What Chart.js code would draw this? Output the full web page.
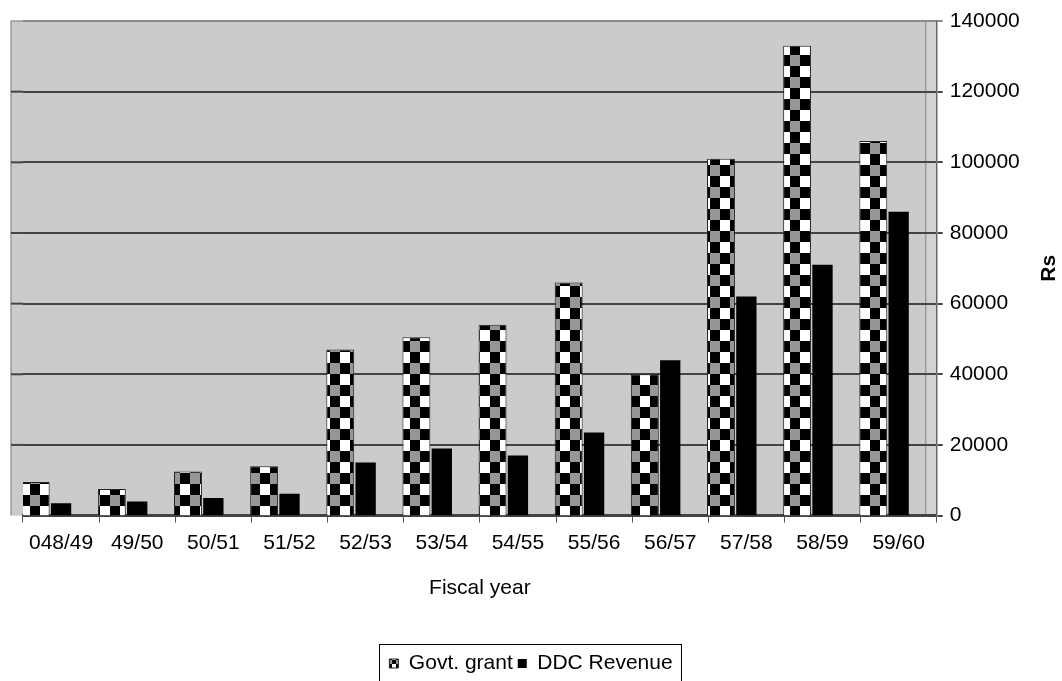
<!DOCTYPE html>
<html>
<head>
<meta charset="utf-8">
<title>Govt. grant and DDC Revenue</title>
<script src="https://cdn.jsdelivr.net/npm/chart.js@4.4.1/dist/chart.umd.min.js"></script>
<style>
    html, body { margin: 0; padding: 0; background: #fff; }
    canvas { display: block; }
</style>
</head>
<body>
<canvas id="chart" width="1062" height="681"></canvas>
<script>
// Fiscal years on the x axis
const years = ['048/49', '49/50', '50/51', '51/52', '52/53', '53/54', '54/55', '55/56', '56/57', '57/58', '58/59', '59/60'];

// Values in Rs
const govtGrant = [9500, 7500, 12500, 14000, 47000, 50500, 54000, 66000, 40000, 101000, 133000, 106000];
const ddcRevenue = [3500, 4000, 5000, 6200, 15000, 19000, 17000, 23500, 44000, 62000, 71000, 86000];

// y axis range
const yMax = 140000;
const yStep = 20000;

const FONT = "'Liberation Sans', Arial, sans-serif";

// checkered fill for the grant bars (cell = size of one square)
function makeChecker(ctx, cw, ch) {
    const c = document.createElement('canvas');
    c.width = cw * 2;
    c.height = ch * 2;
    const g = c.getContext('2d');
    g.fillStyle = '#ffffff';
    g.fillRect(0, 0, cw, ch);
    g.fillStyle = '#000000';
    g.fillRect(cw, 0, cw, ch);
    g.fillRect(0, ch, cw, ch);
    g.fillStyle = '#969696';
    g.fillRect(cw, ch, cw, ch);
    return ctx.createPattern(c, 'repeat');
}

// grey back wall, side wall and short grid stubs on the left
const wallPlugin = {
    id: 'wall',
    beforeDraw(chart) {
        const { ctx, chartArea } = chart;
        const y = chart.scales.y;
        ctx.save();
        ctx.fillStyle = '#cbcbcb';
        ctx.fillRect(chartArea.left - 12, chartArea.top, chartArea.right - chartArea.left + 12, chartArea.bottom - chartArea.top);
        ctx.fillStyle = '#d2d2d2';
        ctx.fillRect(chartArea.right - 11, chartArea.top, 11, chartArea.bottom - chartArea.top);
        ctx.strokeStyle = '#9a9a9a';
        ctx.lineWidth = 1.5;
        ctx.beginPath();
        ctx.moveTo(chartArea.left - 12, chartArea.bottom);
        ctx.lineTo(chartArea.left - 12, chartArea.top);
        ctx.lineTo(chartArea.right - 11, chartArea.top);
        ctx.lineTo(chartArea.right - 11, chartArea.bottom);
        ctx.stroke();
        // grid stubs left of the category axis
        ctx.strokeStyle = '#444';
        ctx.lineWidth = 2;
        for (let v = yStep; v < yMax; v += yStep) {
            const py = y.getPixelForValue(v);
            ctx.beginPath();
            ctx.moveTo(chartArea.left - 12, py);
            ctx.lineTo(chartArea.left, py);
            ctx.stroke();
        }
        ctx.restore();
    },
    afterDraw(chart) {
        const { ctx } = chart;
        const y = chart.scales.y;
        ctx.save();
        // axis title, reading bottom to top
        ctx.translate(y.right - 12.6, (chart.chartArea.top + chart.chartArea.bottom) / 2);
        ctx.rotate(-Math.PI / 2);
        ctx.fillStyle = '#000';
        ctx.font = 'bold 21px ' + FONT;
        ctx.textAlign = 'center';
        ctx.textBaseline = 'middle';
        ctx.fillText('Rs', 0, 0);
        ctx.restore();

        // box round the legend
        const lg = chart.legend;
        if (lg && lg.legendHitBoxes.length) {
            let l = Infinity, r = -Infinity, t = Infinity;
            lg.legendHitBoxes.forEach(b => {
                l = Math.min(l, b.left);
                r = Math.max(r, b.left + b.width);
                t = Math.min(t, b.top);
            });
            ctx.save();
            ctx.strokeStyle = '#000';
            ctx.lineWidth = 1;
            ctx.strokeRect(Math.round(l) - 9.5, Math.round(t) - 8.5, Math.round(r - l) + 19, 60);
            ctx.restore();
        }
    }
};

const canvas = document.getElementById('chart');
const checker = makeChecker(canvas.getContext('2d'), 10, 11);
const smallChecker = makeChecker(canvas.getContext('2d'), 4, 4);

new Chart(canvas, {
    type: 'bar',
    data: {
        labels: years,
        datasets: [
            {
                label: 'Govt. grant',
                data: govtGrant,
                backgroundColor: checker,
                borderColor: '#222',
                borderWidth: 1,
                barPercentage: 1.1,
                categoryPercentage: 1
            },
            {
                label: 'DDC Revenue',
                data: ddcRevenue,
                backgroundColor: '#000',
                borderWidth: 0,
                barPercentage: 0.8,
                categoryPercentage: 1
            },
            {
                // empty slot so the pair sits on the left of each category
                label: '',
                data: [],
                backgroundColor: 'rgba(0,0,0,0)',
                barPercentage: 1,
                categoryPercentage: 1
            }
        ]
    },
    options: {
        responsive: false,
        animation: false,
        layout: { padding: { top: 21, left: 0, right: 0, bottom: -3 } },
        plugins: {
            tooltip: { enabled: false },
            legend: {
                position: 'bottom',
                labels: {
                    color: '#000',
                    font: { family: FONT, size: 21 },
                    boxWidth: 9,
                    boxHeight: 9,
                    padding: 5,
                    filter: item => item.text !== '',
                    generateLabels: chart => {
                        const items = Chart.defaults.plugins.legend.labels.generateLabels(chart);
                        items.forEach(it => {
                            if (it.datasetIndex === 0) it.fillStyle = smallChecker;
                        });
                        return items;
                    }
                }
            }
        },
        scales: {
            x: {
                grid: {
                    offset: true,
                    drawOnChartArea: false,
                    tickLength: 7,
                    color: '#555'
                },
                border: { display: true, color: '#444', width: 3 },
                ticks: {
                    color: '#000',
                    font: { family: FONT, size: 21 },
                    padding: 8,
                    maxRotation: 0
                },
                title: {
                    display: true,
                    text: 'Fiscal year',
                    color: '#000',
                    font: { family: FONT, size: 21 },
                    padding: { top: 12, bottom: 47 }
                }
            },
            // blank strip on the left that keeps the wall inside the canvas
            left: {
                position: 'left',
                display: true,
                grid: { display: false },
                border: { display: false },
                ticks: { display: false },
                afterFit: scale => { scale.width = 23; }
            },
            y: {
                position: 'right',
                min: 0,
                max: yMax,
                grid: {
                    color: ctx => (ctx.tick && ctx.tick.value === yMax ? '#8c8c8c' : '#444'),
                    lineWidth: 2,
                    tickLength: 6
                },
                border: { display: true, color: '#666', width: 1.5 },
                ticks: {
                    stepSize: yStep,
                    color: '#000',
                    font: { family: FONT, size: 21 },
                    padding: 7,
                    callback: v => String(v)
                },
                title: {
                    display: true,
                    text: 'Rs',
                    color: 'rgba(0,0,0,0)',
                    font: { family: FONT, size: 21, weight: 'bold' },
                    padding: { top: 0, bottom: 10 }
                }
            }
        }
    },
    plugins: [wallPlugin]
});
</script>
</body>
</html>
